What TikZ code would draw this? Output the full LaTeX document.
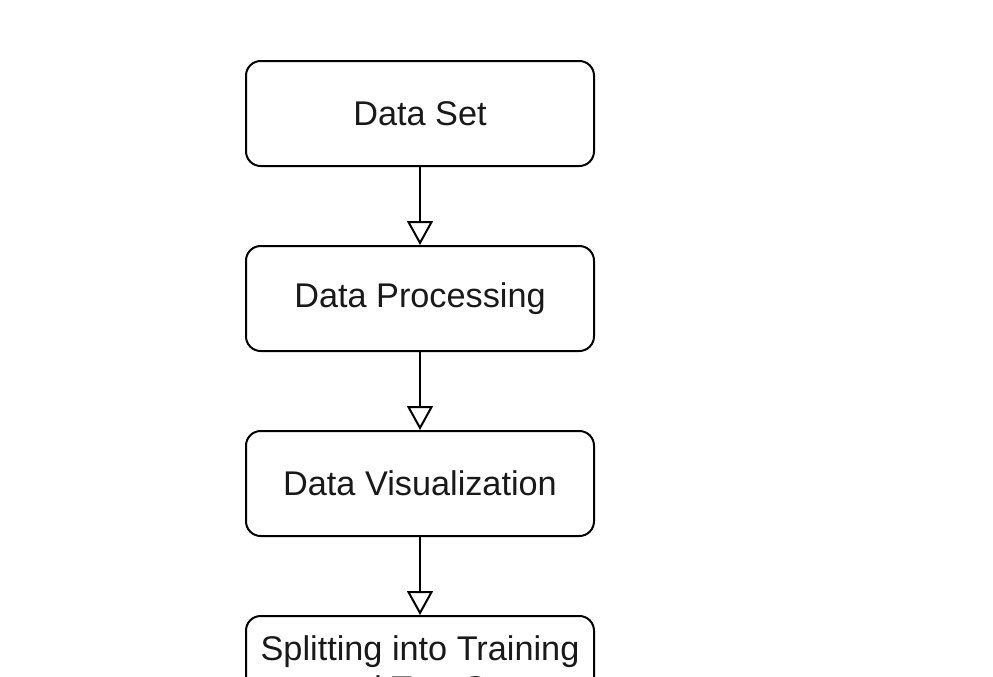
\documentclass[tikz,border=0pt]{standalone}
\usepackage{fontspec}
\setmainfont{Liberation Sans}
\usepackage{tikz}
\usetikzlibrary{arrows.meta,positioning}

\begin{document}
\begin{tikzpicture}[x=0.75pt, y=-0.75pt,
    node distance=58.5pt,
    box/.style={draw, rounded corners=11pt, align=center, line width=1.5pt,
                minimum width=261pt, minimum height=78.75pt, inner sep=2pt,
                font=\fontsize{25.7}{30}\selectfont, text=black!90},
    arr/.style={-{Triangle[open, length=18pt, width=19.5pt, fill=white]}, line width=1.5pt}]
  \useasboundingbox (0,0) rectangle (993,676);
  \clip (0,0) rectangle (993,676);
  \node[box] (dataset) at (420,113.5) {Data Set};
  \node[box, below=of dataset] (processing) {Data Processing};
  \node[box, below=of processing] (visual) {Data Visualization};
  \node[box, below=of visual] (split) {Splitting into Training\\ and Test Set};
  \draw[arr] (dataset) -- (processing);
  \draw[arr] (processing) -- (visual);
  \draw[arr] (visual) -- (split);
\end{tikzpicture}
\end{document}
